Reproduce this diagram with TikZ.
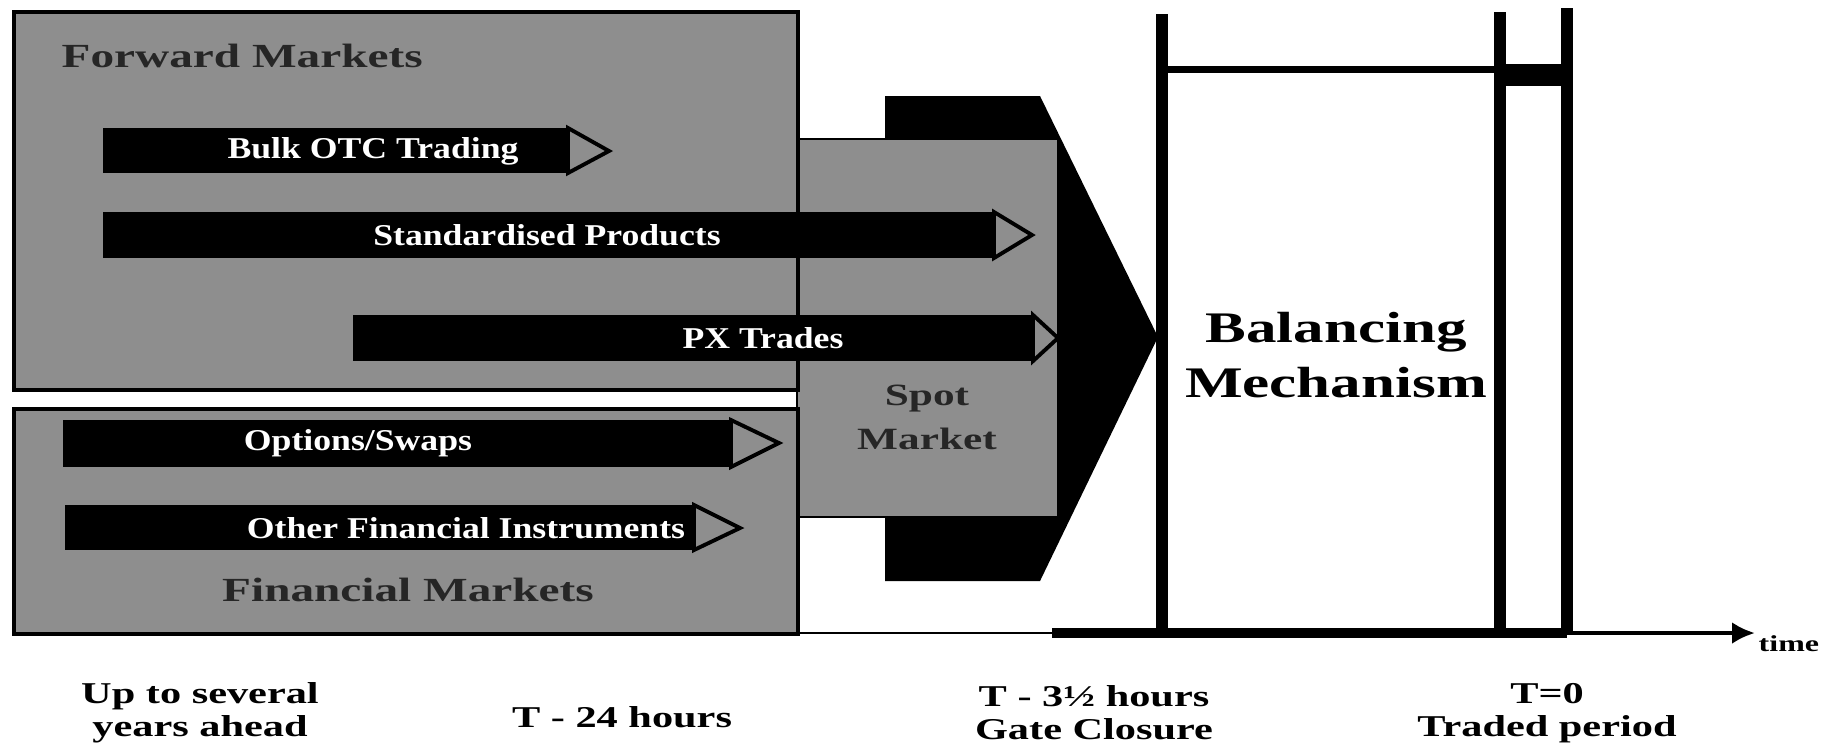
\documentclass[tikz,border=0pt]{standalone}
\usepackage{fontspec}
\setmainfont{Liberation Serif}
\newfontfamily\barfont[FakeStretch=1.18]{Liberation Serif}
\newfontfamily\widefont[FakeStretch=1.4]{Liberation Serif}
\usepackage{tikz}
\usepackage{xcolor}
\usetikzlibrary{arrows.meta}

\definecolor{mktgray}{RGB}{142,142,142}
\definecolor{inkgray}{RGB}{38,38,38}

\tikzset{
  market/.style={fill=mktgray, draw=black, line width=0.9pt},
  tradehead/.style={fill=mktgray, draw=black, line width=1.1pt, line join=miter},
  tradetext/.style={text=white, inner sep=0pt, font=\barfont\bfseries\fontsize{8.6}{10}\selectfont},
  mkttext/.style={text=inkgray, inner sep=0pt, font=\widefont\bfseries\fontsize{9.6}{11}\selectfont},
  spottext/.style={text=inkgray, inner sep=0pt, align=center, font=\widefont\bfseries\fontsize{8.8}{12.5}\selectfont},
  bmtext/.style={inner sep=0pt, align=center, font=\widefont\bfseries\fontsize{12.4}{15.6}\selectfont},
  timetext/.style={inner sep=0pt, align=center, font=\widefont\bfseries\fontsize{8.6}{9.3}\selectfont},
  bmwall/.style={line width=3.3pt},
}

\begin{document}
\begin{tikzpicture}[x=0.01cm, y=-0.01cm]
    \useasboundingbox (0,0) rectangle (1822,750);

    % funnel and spot market
    \fill (885,96) -- (1040,96) -- (1158,337) -- (1040,581) -- (885,581) -- cycle;
    \filldraw[market, line width=0.6pt] (797,139) rectangle (1058,517);
    \node[spottext] (spot) at (927,417) {Spot\\Market};

    % market boxes
    \filldraw[market] (14,12) rectangle (798,390);
    \filldraw[market] (14,409) rectangle (798,634);
    \node[mkttext, anchor=west] (fwd) at (61,56) {Forward Markets};
    \node[mkttext] (fin) at (408,590) {Financial Markets};

    % trading arrows
    \fill (103,128) rectangle (568,173);
    \draw[tradehead] (568,128) -- (609,151) -- (568,173) -- cycle;
    \node[tradetext] (bulk) at (373,151) {Bulk OTC Trading};

    \fill (103,212) rectangle (994,258);
    \draw[tradehead] (994,212) -- (1032,235) -- (994,258) -- cycle;
    \node[tradetext] (std) at (547,235) {Standardised Products};

    \fill (353,315) rectangle (1033,361);
    \draw[tradehead] (1033,315) -- (1058,338) -- (1033,361) -- cycle;
    \node[tradetext] (px) at (763,338) {PX Trades};

    \fill (63,420) rectangle (731,467);
    \draw[tradehead] (731,420) -- (779,443) -- (731,467) -- cycle;
    \node[tradetext] (opt) at (358,443) {Options/Swaps};

    \fill (65,505) rectangle (694,550);
    \draw[tradehead] (694,505) -- (740,528) -- (694,550) -- cycle;
    \node[tradetext] (other) at (466,528) {Other Financial Instruments};

    % balancing mechanism and traded period
    \coordinate (gcTop) at (1162,14);
    \coordinate (gcBot) at (1162,633);
    \coordinate (tpA) at (1500,12);
    \coordinate (tpAbot) at (1500,633);
    \coordinate (tpB) at (1567,8);
    \coordinate (tpBbot) at (1567,633);
    \draw[bmwall] (gcTop) -- (gcBot);
    \draw[line width=2pt] (1162,69) -- (1500,69);
    \draw[bmwall] (tpA) -- (tpAbot);
    \draw[bmwall] (tpB) -- (tpBbot);
    \fill (1500,64) rectangle (1567,86);
    \node[bmtext] (bm) at (1336,355) {Balancing\\Mechanism};

    % time axis
    \coordinate (fmEnd) at (798,633);
    \coordinate (axStart) at (1052,633);
    \coordinate (axEnd) at (1755,633);
    \draw[line width=0.6pt] (fmEnd) -- (gcBot);
    \draw[line width=2.8pt] (axStart) -- (tpBbot);
    \draw[line width=1.3pt, -{Latex[length=2.3mm,width=2.2mm]}] (tpBbot) -- (axEnd);
    \node[anchor=west, inner sep=0pt, font=\widefont\bfseries\fontsize{6.5}{8}\selectfont] (time) at (1758,644) {time};

    \node[timetext] (ahead) at (200,713) {Up to several\\years ahead};
    \node[timetext] (day) at (622,717) {T - 24 hours};
    \node[timetext] (gate) at (1094,713) {T - 3½ hours\\Gate Closure};
    \node[timetext] (tzero) at (1547,713) {T=0\\Traded period};
\end{tikzpicture}
\end{document}
